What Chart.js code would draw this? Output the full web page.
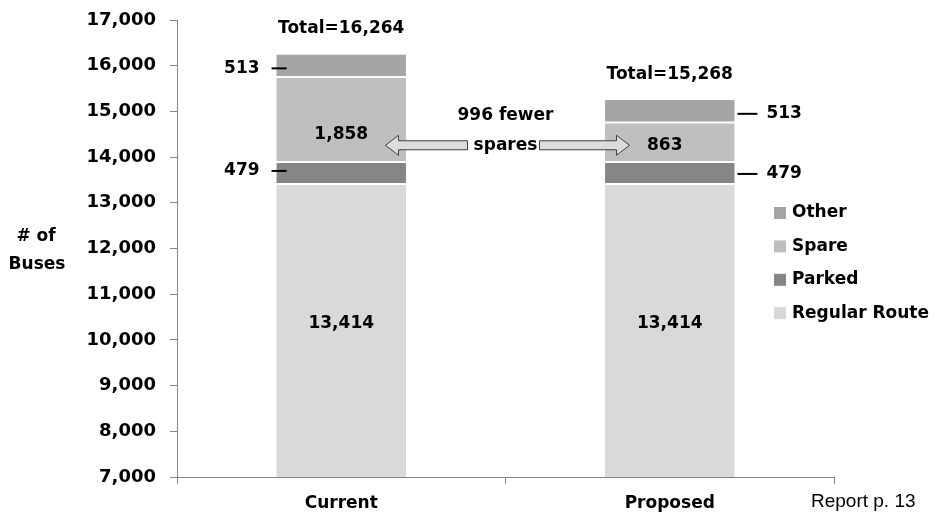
<!DOCTYPE html>
<html><head><meta charset="utf-8">
<script src="https://cdn.jsdelivr.net/npm/chart.js@4/dist/chart.umd.min.js"></script>
<style>html,body{margin:0;padding:0;background:#fff;overflow:hidden}canvas{display:block}</style>
</head><body>
<canvas id="c" width="936" height="516"></canvas>
<script>
const categories = ['Current', 'Proposed'];
const regularRoute = [13414, 13414];
const parked = [479, 479];
const spare = [1858, 863];
const other = [513, 513];
const totalLabels = ['Total=16,264', 'Total=15,268'];
const seriesNames = ['Regular Route', 'Parked', 'Spare', 'Other'];
const seriesColors = ['#d9d9d9', '#868686', '#bfbfbf', '#a5a5a5'];
const noteLines = ['996 fewer', 'spares'];
const yTitleLines = ['# of', 'Buses'];
const sourceNote = 'Report p. 13';
const yMin = 7000, yMax = 17000, yStep = 1000;

const BOLD = 'bold 17px "DejaVu Sans", sans-serif';
const fmt = v => v.toLocaleString('en-US');

const seriesData = [regularRoute, parked, spare, other];

const annot = {
  id: 'annot',
  afterDatasetsDraw(chart) {
    const ctx = chart.ctx, xs = chart.scales.x, ys = chart.scales.y;
    const ca = chart.chartArea;
    ctx.save();
    ctx.fillStyle = '#000';
    ctx.font = BOLD;
    ctx.textBaseline = 'middle';
    ctx.textAlign = 'center';

    const segCenter = (ds, i) => {
      let start = 0;
      for (let k = 0; k < ds; k++) start += seriesData[k][i];
      const end = start + seriesData[ds][i];
      const s = Math.max(start, yMin);
      return ys.getPixelForValue((s + end) / 2);
    };
    const barOf = (ds, i) => chart.getDatasetMeta(ds).data[i];

    categories.forEach((c, i) => {
      const cx = xs.getPixelForValue(i);
      let tot = 0;
      seriesData.forEach(a => tot += a[i]);
      ctx.fillText(totalLabels[i], cx, ys.getPixelForValue(tot) - 25);
      ctx.fillText(fmt(regularRoute[i]), cx, segCenter(0, i) - 7);
      ctx.fillText(fmt(spare[i]), cx + (i === 1 ? -5 : 0), segCenter(2, i) + (i === 0 ? 15 : 3));
    });

    ctx.lineWidth = 2;
    ctx.strokeStyle = '#000';
    const b0 = barOf(0, 0), b1 = barOf(0, 1);
    const left0 = b0.x - b0.width / 2;
    const right1 = b1.x + b1.width / 2;
    [[3, other], [1, parked]].forEach(([ds, arr]) => {
      let y = segCenter(ds, 0) + (ds === 3 ? 3 : -2);
      ctx.beginPath(); ctx.moveTo(left0 - 4, y); ctx.lineTo(left0 + 11, y); ctx.stroke();
      ctx.textAlign = 'right';
      ctx.fillText(fmt(arr[0]), left0 - 16, y);
      y = segCenter(ds, 1) + (ds === 3 ? 3 : 1);
      ctx.beginPath(); ctx.moveTo(right1 + 2, y); ctx.lineTo(right1 + 22, y); ctx.stroke();
      ctx.textAlign = 'left';
      ctx.fillText(fmt(arr[1]), right1 + 31, y);
    });

    const mid = (xs.getPixelForValue(0) + xs.getPixelForValue(1)) / 2;
    const ay = segCenter(2, 1) + 3;
    ctx.textAlign = 'center';
    ctx.fillText(noteLines[0], mid, ay - 30);
    ctx.fillText(noteLines[1], mid, ay);
    const arrow = (tail, tip) => {
      const d = Math.sign(tip - tail);
      const hb = tip - d * 13;
      ctx.beginPath();
      ctx.moveTo(tail, ay - 4.5);
      ctx.lineTo(hb, ay - 4.5);
      ctx.lineTo(hb, ay - 10);
      ctx.lineTo(tip, ay);
      ctx.lineTo(hb, ay + 10);
      ctx.lineTo(hb, ay + 4.5);
      ctx.lineTo(tail, ay + 4.5);
      ctx.closePath();
      ctx.fillStyle = '#dcdcdc';
      ctx.fill();
      ctx.lineWidth = 1;
      ctx.strokeStyle = '#404040';
      ctx.stroke();
    };
    arrow(mid - 38, mid - 120);
    arrow(mid + 34, mid + 124);

    const lx = ca.right - 60;
    [3, 2, 1, 0].forEach((ds, k) => {
      const y = 213 + k * 33.4;
      ctx.fillStyle = seriesColors[ds];
      ctx.fillRect(lx, y - 6, 12, 12);
      ctx.fillStyle = '#000';
      ctx.textAlign = 'left';
      ctx.fillText(seriesNames[ds], lx + 18, y);
    });

    ctx.textAlign = 'center';
    ctx.fillText(yTitleLines[0], 36, 237);
    ctx.fillText(yTitleLines[1], 37, 265);

    ctx.font = '19px "Liberation Sans", sans-serif';
    ctx.textAlign = 'left';
    ctx.fillText(sourceNote, 811, 502);
    ctx.restore();
  }
};

new Chart(document.getElementById('c'), {
  type: 'bar',
  data: {
    labels: categories,
    datasets: seriesData.map((d, k) => ({
      label: seriesNames[k],
      data: d,
      backgroundColor: seriesColors[k],
      borderColor: 'rgba(255,255,255,0.25)',
      borderWidth: 1,
      borderSkipped: false,
      categoryPercentage: 1,
      barPercentage: 0.4
    }))
  },
  options: {
    responsive: false,
    animation: false,
    devicePixelRatio: 1,
    layout: { padding: { top: 20, right: 102, left: 0, bottom: 0 } },
    plugins: { legend: { display: false }, tooltip: { enabled: false } },
    scales: {
      x: {
        stacked: true,
        grid: { offset: true, drawOnChartArea: false, drawTicks: true, tickLength: 7, color: '#868686' },
        border: { color: '#868686', width: 1 },
        ticks: { color: '#000', font: { family: '"DejaVu Sans", sans-serif', weight: 'bold', size: 17 }, padding: 9 },
        afterFit: s => { s.height = 39; s.paddingLeft = 0; s.paddingRight = 0; }
      },
      y: {
        stacked: true,
        min: yMin, max: yMax,
        grid: { drawOnChartArea: false, drawTicks: true, tickLength: 7, color: '#868686' },
        border: { color: '#868686', width: 1 },
        ticks: { stepSize: yStep, color: '#000', padding: 14,
          font: { family: '"DejaVu Sans", sans-serif', weight: 'bold', size: 18 },
          callback: v => fmt(v) },
        afterFit: s => { s.width = 177; s.paddingTop = 0; s.paddingBottom = 0; }
      }
    }
  },
  plugins: [annot]
});
</script>
</body></html>
